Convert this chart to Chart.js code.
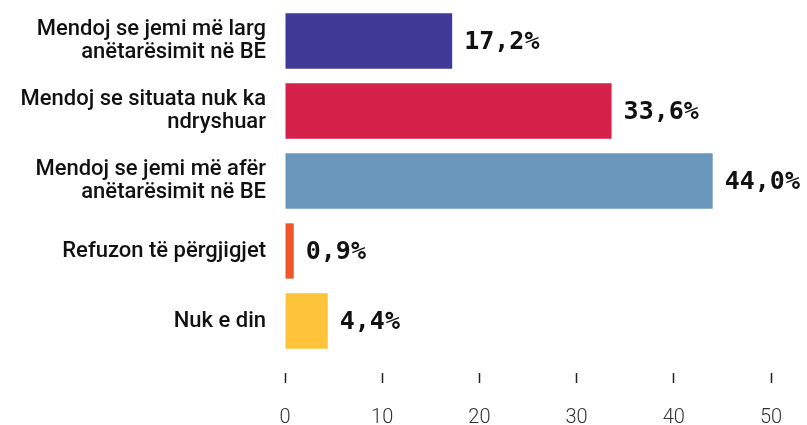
<!DOCTYPE html>
<html>
<head>
<meta charset="utf-8">
<script src="https://cdn.jsdelivr.net/npm/chart.js@4/dist/chart.umd.min.js"></script>
<style>
  html, body { margin: 0; padding: 0; background: #fff; }
  #wrap { width: 807px; height: 425px; position: relative; }
</style>
</head>
<body>
<div id="wrap"><canvas id="myChart"></canvas></div>
<script>
// data
const categories = [
    ['Mendoj se jemi më larg', 'anëtarësimit në BE'],
    ['Mendoj se situata nuk ka', 'ndryshuar'],
    ['Mendoj se jemi më afër', 'anëtarësimit në BE'],
    'Refuzon të përgjigjet',
    'Nuk e din'
];
const values = [17.2, 33.6, 44.0, 0.9, 4.4];
const barColors = ['#3F3A96', '#D5214A', '#6897BB', '#EE552B', '#FDC33A'];
const xTicks = [0, 10, 20, 30, 40, 50];

// value labels at the end of each bar
const valueLabels = {
    id: 'valueLabels',
    afterDatasetsDraw(chart) {
        const ctx = chart.ctx;
        const meta = chart.getDatasetMeta(0);
        ctx.save();
        ctx.font = 'bold 25px "DejaVu Sans Mono", monospace';
        ctx.fillStyle = '#111';
        ctx.textAlign = 'left';
        ctx.textBaseline = 'middle';
        meta.data.forEach((bar, i) => {
            const txt = values[i].toFixed(1).replace('.', ',') + '%';
            ctx.fillText(txt, bar.x + 12, bar.y + 1);
        });
        ctx.restore();
    }
};

const config = {
    type: 'bar',
    data: {
        labels: categories,
        datasets: [{
            data: values,
            backgroundColor: barColors,
            borderWidth: 0,
            barPercentage: 0.79,
            categoryPercentage: 1
        }]
    },
    options: {
        indexAxis: 'y',
        responsive: true,
        maintainAspectRatio: false,
        animation: false,
        layout: { padding: { top: 6, right: 36, left: 0, bottom: 0 } },
        plugins: {
            legend: { display: false },
            tooltip: { enabled: false }
        },
        scales: {
            x: {
                min: 0,
                max: 50,
                afterBuildTicks: s => { s.ticks = xTicks.map(v => ({ value: v })); },
                afterFit: s => {
                    s.height = 69;
                    s.paddingLeft = 0;
                    s.paddingRight = 0;
                },
                border: { display: false },
                grid: {
                    drawOnChartArea: false,
                    drawTicks: true,
                    tickLength: 27,
                    tickColor: '#222',
                    tickWidth: 1.5,
                    tickBorderDash: [0, 17, 10, 1000]
                },
                ticks: {
                    padding: 23,
                    color: '#333',
                    font: { family: 'Roboto', size: 20, weight: 300 }
                }
            },
            y: {
                afterFit: s => {
                    s.width = 285;
                    s.paddingTop = 0;
                    s.paddingBottom = 0;
                },
                border: { display: false },
                grid: { display: false, drawTicks: false },
                ticks: {
                    padding: 19,
                    color: '#111',
                    font: { family: 'Roboto', size: 22, weight: 500, lineHeight: 1.05 }
                }
            }
        }
    },
    plugins: [valueLabels]
};

const myChart = new Chart(document.getElementById('myChart'), config);
</script>
</body>
</html>
